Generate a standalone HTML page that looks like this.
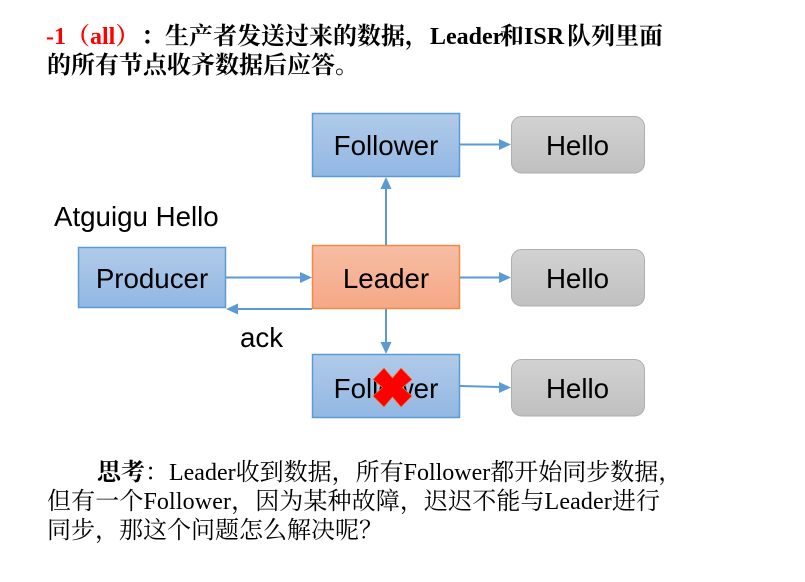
<!DOCTYPE html>
<html><head><meta charset="utf-8">
<style>
html,body{margin:0;padding:0;background:#fff;width:805px;height:582px;overflow:hidden}
svg{display:block}
.s{font-family:"Liberation Sans",sans-serif;font-size:27.7px;fill:#000;text-anchor:middle}
.t{font-family:"Liberation Serif","Noto Serif CJK SC",serif;font-size:24px;fill:#000}
.b{font-weight:bold}
</style></head><body>
<svg width="805" height="582" viewBox="0 0 805 582" xmlns="http://www.w3.org/2000/svg">
<defs>
<linearGradient id="bl" x1="0" y1="0" x2="0" y2="1"><stop offset="0" stop-color="#b1cbe9"/><stop offset="1" stop-color="#91b7e3"/></linearGradient>
<linearGradient id="or" x1="0" y1="0" x2="0" y2="1"><stop offset="0" stop-color="#f7bda4"/><stop offset="1" stop-color="#f5a886"/></linearGradient>
<linearGradient id="gr" x1="0" y1="0" x2="0" y2="1"><stop offset="0" stop-color="#d2d2d2"/><stop offset="1" stop-color="#c0c0c0"/></linearGradient>
</defs>

<text class="t b" x="46" y="44"><tspan fill="#f00">-1（all）</tspan><tspan x="141">：生产者发送过来的数据，</tspan><tspan x="430">Leader</tspan><tspan x="500">和</tspan><tspan x="524">ISR</tspan><tspan x="567">队列里面</tspan></text>
<text class="t b" x="47" y="73">的所有节点收齐数据后应答。</text>

<text class="s" x="54" y="226" style="text-anchor:start">Atguigu Hello</text>

<g stroke="#5b9bd5" stroke-width="1.5" fill="url(#bl)">
<rect x="312.500" y="113.500" width="147" height="63"/>
<rect x="78.500" y="247.500" width="147" height="60"/>
<rect x="312.500" y="354.500" width="147" height="63"/>
</g>
<rect x="312.500" y="245.500" width="147" height="63" fill="url(#or)" stroke="#ed7d31" stroke-width="1.5" stroke-opacity=".85"/>
<g fill="url(#gr)" stroke="#aeaeae" stroke-width="1">
<rect x="511.500" y="116.500" width="133" height="56.500" rx="10"/>
<rect x="511.500" y="249.500" width="133" height="56.500" rx="10"/>
<rect x="511.500" y="359.500" width="133" height="56.500" rx="10"/>
</g>

<g stroke="#5b9bd5" stroke-width="2" fill="none">
<path d="M460 144.500H500"/>
<path d="M386 245V187"/>
<path d="M226 277.500H301"/>
<path d="M312 309H236"/>
<path d="M460 277.500H500"/>
<path d="M386 309V344"/>
<path d="M460 386L500 387"/>
</g>
<g fill="#5b9bd5">
<path d="M511 144.500L499 139V150Z"/>
<path d="M386 177L380.500 189H391.500Z"/>
<path d="M312 277.500L300 272V283Z"/>
<path d="M226 309L238 303.500V314.500Z"/>
<path d="M511 277.500L499 272V283Z"/>
<path d="M386 354L380.500 342H391.500Z"/>
<path d="M511 387.500L499 382V393Z"/>
</g>

<text class="s" x="386" y="155">Follower</text>
<text class="s" x="152" y="288">Producer</text>
<text class="s" x="386" y="288">Leader</text>
<text class="s" x="386" y="398">Follower</text>
<text class="s" x="577.500" y="155">Hello</text>
<text class="s" x="577.500" y="288">Hello</text>
<text class="s" x="577.500" y="398">Hello</text>
<text class="s" x="261.500" y="347">ack</text>

<polygon points="384,368 392.500,378 401,368 412,379.500 402.500,387.500 412,396 401,407 392.500,397 384,407 373,396 382.500,387.500 373,379.500" fill="#f00" stroke="#ed7d31" stroke-width=".7"/>

<text class="t" x="97" y="480"><tspan class="b">思考</tspan>：Leader收到数据，所有Follower都开始同步数据，</text>
<text class="t" x="47" y="509" textLength="613">但有一个Follower，因为某种故障，迟迟不能与Leader进行</text>
<text class="t" x="47" y="538">同步，那这个问题怎么解决呢？</text>
</svg>
</body></html>
